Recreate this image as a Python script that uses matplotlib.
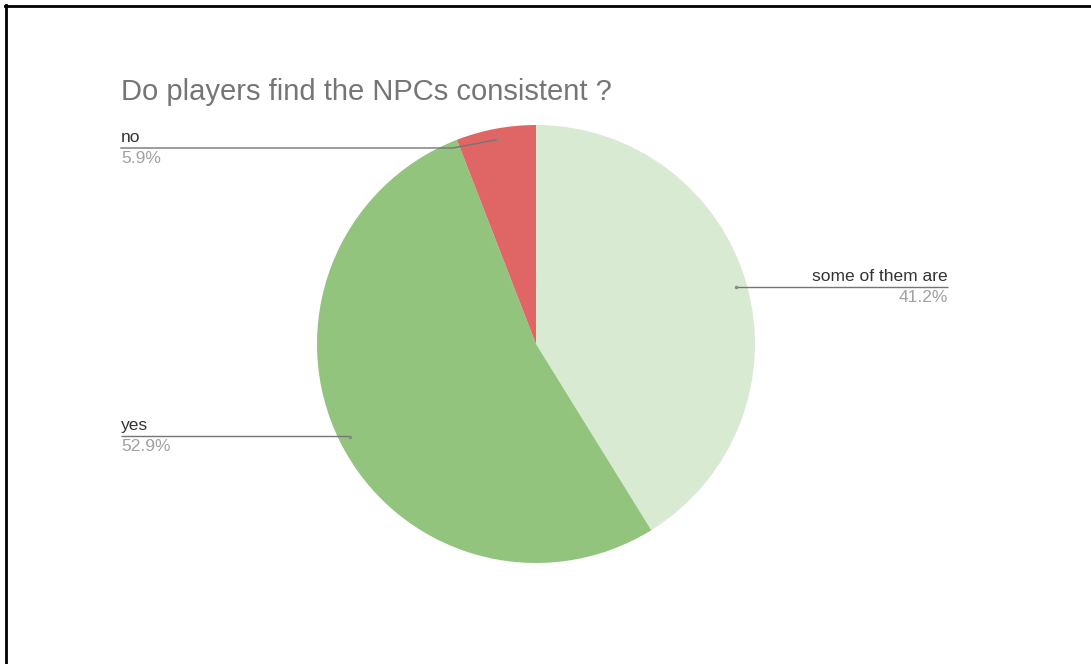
import numpy as np
import matplotlib.pyplot as plt

# ------------------------------
# data
# ------------------------------
labels = ["some of them are", "yes", "no"]
counts = [7, 9, 1]
colors = ["#d9ead3", "#93c47d", "#e06666"]
title = "Do players find the NPCs consistent ?"

W, H = 1091, 664
fig = plt.figure(figsize=(W / 100, H / 100), dpi=100)
ax = fig.add_axes([0, 0, 1, 1])

cx, cy, r = 536, H - 344, 219
wedges, _ = ax.pie(counts, colors=colors, startangle=90, counterclock=False,
                   center=(cx, cy), radius=r, frame=True,
                   wedgeprops=dict(linewidth=0))
ax.set_xlim(0, W)
ax.set_ylim(0, H)
ax.set_aspect("auto")
ax.axis("off")

# label placement (line y in px from top, text anchor x, alignment)
label_y = {"some of them are": 287, "yes": 436, "no": 148}
label_x = {"some of them are": 948, "yes": 121, "no": 121}
align = {"some of them are": "right", "yes": "left", "no": "left"}

total = sum(counts)
line_col = "#757575"
font = "Liberation Sans"
for w, lab, n in zip(wedges, labels, counts):
    ang = np.deg2rad((w.theta1 + w.theta2) / 2)
    dx, dy = cx + 0.95 * r * np.cos(ang), cy + 0.95 * r * np.sin(ang)
    ly = H - label_y[lab]
    lx = label_x[lab]
    # bend point before the dot
    bx = dx - 45 if lx < dx else dx + 10
    if abs(dy - ly) < 2:
        ax.plot([lx, dx], [ly, ly], color=line_col, lw=1, solid_capstyle="butt")
    else:
        ax.plot([lx, bx, dx], [ly, ly, dy], color=line_col, lw=1)
    ax.plot(dx, dy, "o", ms=2.5, color="#888888", mec="none")
    pct = f"{100 * n / total:.1f}%"
    ax.text(lx, ly + 3, lab, ha=align[lab], va="bottom", fontsize=12.5,
            color="#333333", family=font)
    ax.text(lx, ly - 3, pct, ha=align[lab], va="top", fontsize=12.5,
            color="#a0a0a0", family=font)

ax.text(121, H - 92, title, ha="left", va="center", fontsize=21,
        color="#757575", family=font)

# screenshot frame (top and left edges)
fig.add_artist(plt.Line2D([5 / W, 1], [1 - 5.5 / H, 1 - 5.5 / H], color="black", lw=2))
fig.add_artist(plt.Line2D([6.2 / W, 6.2 / W], [0, 1 - 4.5 / H], color="black", lw=2))

fig.savefig("out.png", dpi=100)
